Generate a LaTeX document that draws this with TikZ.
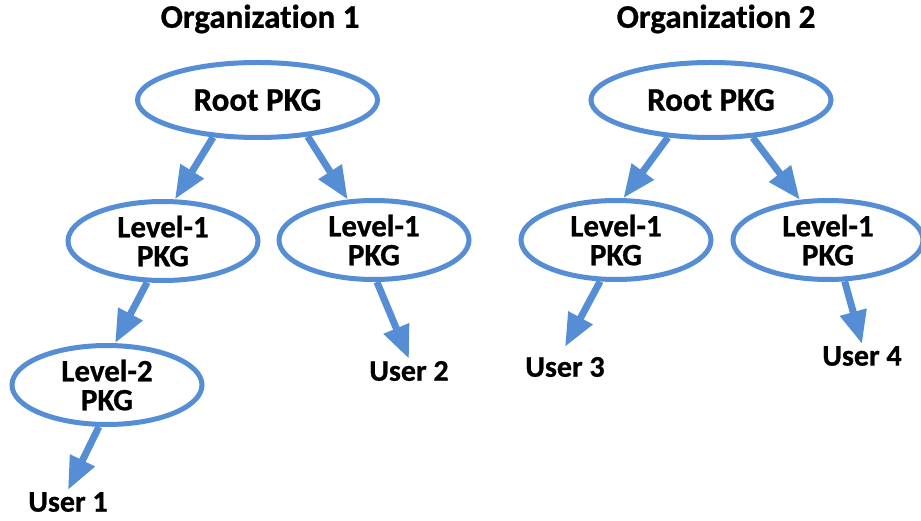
\documentclass[tikz,border=0pt]{standalone}
\usepackage{fontspec}
\setmainfont{Carlito}[Ligatures=NoCommon, BoldFeatures={FakeBold=0.8}]
\usetikzlibrary{shapes.geometric,arrows.meta}
\definecolor{pkgblue}{RGB}{85,142,213}
\tikzset{
  pkg/.style={ellipse, draw=pkgblue, line width=5pt, fill=white, inner sep=0pt,
    align=center, font=\bfseries\fontsize{31}{29}\selectfont,
    minimum width=190pt, minimum height=79pt},
  rootpkg/.style={pkg, font=\bfseries\fontsize{33}{36}\selectfont,
    minimum width=240pt, minimum height=75pt},
  user/.style={font=\bfseries\fontsize{30}{32}\selectfont, inner sep=2pt},
  orgtitle/.style={font=\bfseries\fontsize{33}{36}\selectfont},
  link/.style={draw=pkgblue, line width=7pt, -{Triangle[length=33pt,width=26pt]}}
}
\begin{document}
\begin{tikzpicture}[x=1pt,y=1pt]
        \useasboundingbox (0,0) rectangle (921,520);

        % --- Organization 1 ---
        \node[orgtitle] (org1) at (260,501) {Organization 1};

        % nodi dei pacchetti
        \node[rootpkg] (root1) at (257.5,420) {Root PKG};
        \node[pkg] (l1a) at (163,279) {Level-1\\PKG};
        \node[pkg] (l1b) at (374,280) {Level-1\\PKG};
        \node[pkg] (l2) at (107,135) {Level-2\\PKG};

        % utenti
        \node[user] (user1) at (68,18) {User 1};
        \node[user] (user2) at (409,149) {User 2};

        % archi
        \draw[link] (root1.-140) -- (l1a.74);
        \draw[link] (root1.-36) -- (l1b.123);
        \draw[link] (l1a.-111) -- (l2.79);
        \draw[link] (l2.-101) -- (user1.north);
        \draw[link] (l1b.-86) -- (user2.north);

        % --- Organization 2 ---
        \node[orgtitle] (org2) at (716,501) {Organization 2};

        \node[rootpkg] (root2) at (711,420) {Root PKG};
        \node[pkg] (l1c) at (616,280) {Level-1\\PKG};
        \node[pkg] (l1d) at (828,280) {Level-1\\PKG};

        \node[user] (user3) at (565,153) {User 3};
        \node[user] (user4) at (862,164) {User 4};

        \draw[link] (root2.-139) -- (l1c.80);
        \draw[link] (root2.-42) -- (l1d.125);
        \draw[link] (l1c.-111) -- ([yshift=8pt]user3.north);
        \draw[link] (l1d.-68) -- (user4.north);
\end{tikzpicture}
\end{document}
